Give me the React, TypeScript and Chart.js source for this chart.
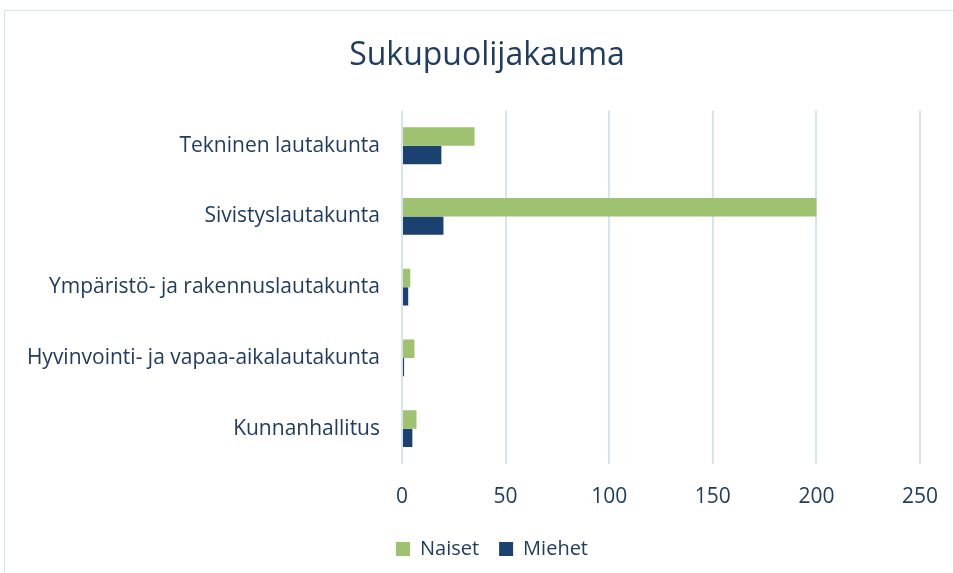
import React, { useEffect, useRef } from "react";
import { Chart, registerables } from "chart.js";

Chart.register(...registerables);

const categories = [
  "Tekninen lautakunta",
  "Sivistyslautakunta",
  "Ympäristö- ja rakennuslautakunta",
  "Hyvinvointi- ja vapaa-aikalautakunta",
  "Kunnanhallitus",
];
const naiset = [35, 200, 4, 6, 7];
const miehet = [19, 20, 3, 1, 5];
const xTicks = [0, 50, 100, 150, 200, 250];

const TEXT = "#203c5e";
const FONT = "'Open Sans', sans-serif";

const shiftBoxes = {
  id: "shiftBoxes",
  afterLayout(chart: any) {
    const l = chart.legend;
    if (l) {
      l.left += 32;
      l.right += 32;
    }
    const t = chart.titleBlock;
    if (t) {
      t.left += 27;
      t.right += 27;
    }
  },
};

export default function App() {
  const ref = useRef<HTMLCanvasElement | null>(null);

  useEffect(() => {
    if (!ref.current) return;
    const chart = new Chart(ref.current, {
      type: "bar",
      data: {
        labels: categories,
        datasets: [
          {
            label: "Naiset",
            data: naiset,
            backgroundColor: "#9fc270",
            barPercentage: 1,
            categoryPercentage: 0.52,
          },
          {
            label: "Miehet",
            data: miehet,
            backgroundColor: "#1a4170",
            barPercentage: 1,
            categoryPercentage: 0.52,
          },
        ],
      },
      plugins: [shiftBoxes],
      options: {
        indexAxis: "y",
        animation: false,
        responsive: false,
        layout: { padding: { left: 0, right: 33, top: 0, bottom: 4 } },
        plugins: {
          title: {
            display: true,
            text: "Sukupuolijakauma",
            color: TEXT,
            font: { family: FONT, size: 32, weight: "normal" },
            padding: { top: 37, bottom: 35 },
          },
          legend: {
            position: "bottom",
            labels: {
              color: TEXT,
              font: { family: FONT, size: 20 },
              boxWidth: 14,
              boxHeight: 14,
              padding: 20,
            },
          },
          tooltip: { enabled: false },
        },
        scales: {
          x: {
            min: 0,
            max: 250,
            afterBuildTicks: (axis: any) => {
              axis.ticks = xTicks.map((v) => ({ value: v }));
            },
            afterFit: (axis: any) => {
              axis.height = 55;
              axis.paddingLeft = 0;
              axis.paddingRight = 0;
            },
            grid: { color: "#d6e3f1", lineWidth: 2, drawTicks: false },
            border: { display: false },
            ticks: {
              color: TEXT,
              font: { family: FONT, size: 21 },
              padding: 20,
            },
          },
          y: {
            afterFit: (axis: any) => {
              axis.width = 402;
            },
            grid: { display: false, drawTicks: false },
            border: { display: false },
            ticks: {
              color: TEXT,
              font: { family: FONT, size: 21 },
              padding: 22,
            },
          },
        },
      },
    });
    return () => chart.destroy();
  }, []);

  return (
    <div
      style={{
        position: "fixed",
        left: 0,
        top: 0,
        width: 953,
        height: 573,
        background: "#fff",
        overflow: "hidden",
      }}
    >
      <div
        style={{
          position: "absolute",
          left: 4,
          top: 10,
          width: 980,
          height: 600,
          border: "1px solid #d9e3ee",
        }}
      />
      <canvas
        ref={ref}
        width={953}
        height={573}
        style={{ position: "absolute", left: 0, top: 0 }}
      />
    </div>
  );
}
